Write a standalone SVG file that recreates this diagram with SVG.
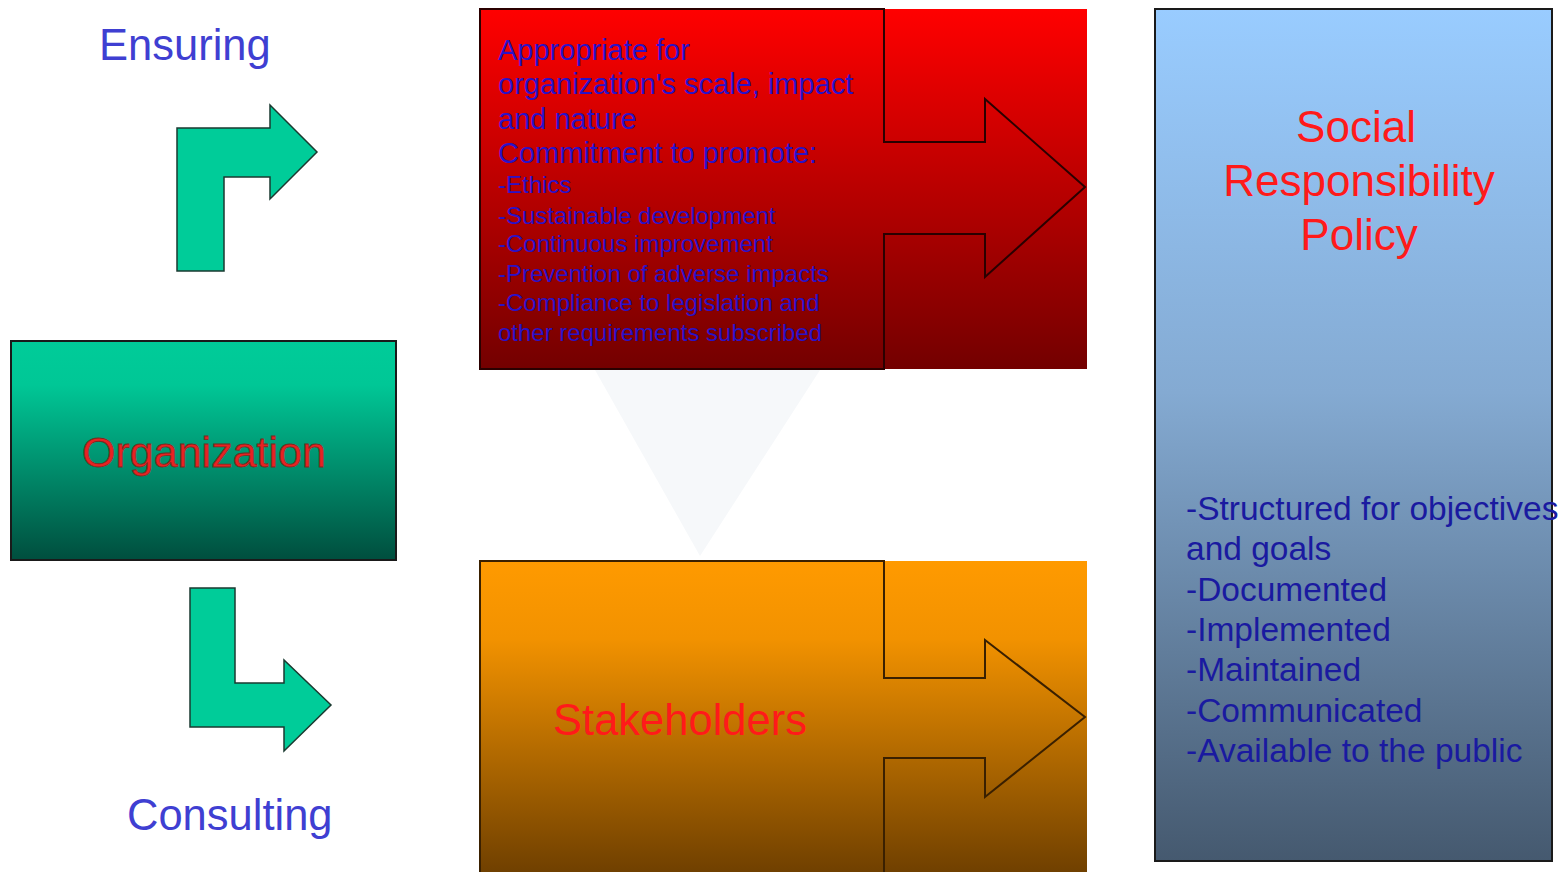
<svg xmlns="http://www.w3.org/2000/svg" width="1568" height="872" viewBox="0 0 1568 872">
<defs>
<linearGradient id="gRed" x1="0" y1="0" x2="0" y2="1">
<stop offset="0" stop-color="#ff0000"/>
<stop offset="1" stop-color="#730000"/>
</linearGradient>
<linearGradient id="gOrange" x1="0" y1="0" x2="0" y2="1">
<stop offset="0" stop-color="#ff9a00"/>
<stop offset="0.25" stop-color="#f29200"/>
<stop offset="1" stop-color="#704000"/>
</linearGradient>
<linearGradient id="gGreen" x1="0" y1="0" x2="0" y2="1">
<stop offset="0" stop-color="#00cc99"/>
<stop offset="0.2" stop-color="#00c796"/>
<stop offset="1" stop-color="#004e3e"/>
</linearGradient>
<linearGradient id="gBlue" x1="0" y1="0" x2="0" y2="1">
<stop offset="0" stop-color="#99ccff"/>
<stop offset="0.45" stop-color="#84aad2"/>
<stop offset="1" stop-color="#45596f"/>
</linearGradient>
</defs>
<style>
text{font-family:"Liberation Sans",Arial,sans-serif}
.lbl{fill:#3f3fd2;font-size:43.5px}
.red{fill:#ff1a1a}
.blue{fill:#2a12c8}
.navy{fill:#1a1aa0;font-size:33.5px}
.outline{fill:none;stroke-width:2;stroke-linejoin:miter}
.garrow{fill:#00cc99;stroke:#1a3a30;stroke-width:1.5}
</style>
<rect width="1568" height="872" fill="#ffffff"/>
<polygon points="595,370 820,370 700,556" fill="#f6f8fa"/>

<g id="ensuring-label"><text class="lbl" x="99" y="60">Ensuring</text></g>
<g id="consulting-label"><text class="lbl" x="127" y="830">Consulting</text></g>

<g id="connectors">
<polygon class="garrow" points="177,271 177,128 270,128 270,105 317,152 270,199 270,177 224,177 224,271"/>
<polygon class="garrow" points="190,588 235,588 235,683 284,683 284,660 331,705 284,751 284,727 190,727"/>
</g>

<g id="organization">
<rect x="11" y="341" width="385" height="219" fill="url(#gGreen)" stroke="#1a1a1a" stroke-width="2"/>
<text x="204" y="467" text-anchor="middle" font-size="43" fill="#e82222" stroke="#7a2a20" stroke-width="0.8">Organization</text>
</g>

<g id="requirements">
<rect x="480" y="9" width="607" height="360" fill="url(#gRed)"/>
<path class="outline" stroke="#2a0000" d="M480,9 H884 V142 H985 V99 L1085,187 L985,277 V234 H884 V369 H480 Z"/>
<g class="blue" font-size="29">
<text x="498" y="60">Appropriate for</text>
<text x="498" y="94">organization's scale, impact</text>
<text x="498" y="129">and nature</text>
<text x="498" y="163">Commitment to promote:</text>
</g>
<g class="blue" font-size="24">
<text x="498" y="193">-Ethics</text>
<text x="498" y="224">-Sustainable development</text>
<text x="498" y="252">-Continuous improvement</text>
<text x="498" y="282">-Prevention of adverse impacts</text>
<text x="498" y="311">-Compliance to legislation and</text>
<text x="498" y="341">other requirements subscribed</text>
</g>
</g>

<g id="stakeholders">
<rect x="480" y="561" width="607" height="311" fill="url(#gOrange)"/>
<path class="outline" stroke="#3a2000" d="M884,872 V758 H985 V797 L1085,717 L985,640 V678 H884 V561 H480 V872"/>
<text class="red" x="680" y="735" text-anchor="middle" font-size="43.5">Stakeholders</text>
</g>

<g id="policy">
<rect x="1155" y="9" width="397" height="852" fill="url(#gBlue)" stroke="#1a1a1a" stroke-width="2"/>
<g class="red" font-size="44" text-anchor="middle">
<text x="1356" y="142">Social</text>
<text x="1359" y="196">Responsibility</text>
<text x="1359" y="250">Policy</text>
</g>
<g class="navy">
<text x="1186" y="520">-Structured for objectives</text>
<text x="1186" y="560">and goals</text>
<text x="1186" y="601">-Documented</text>
<text x="1186" y="641">-Implemented</text>
<text x="1186" y="681">-Maintained</text>
<text x="1186" y="722">-Communicated</text>
<text x="1186" y="762">-Available to the public</text>
</g>
</g>
</svg>
